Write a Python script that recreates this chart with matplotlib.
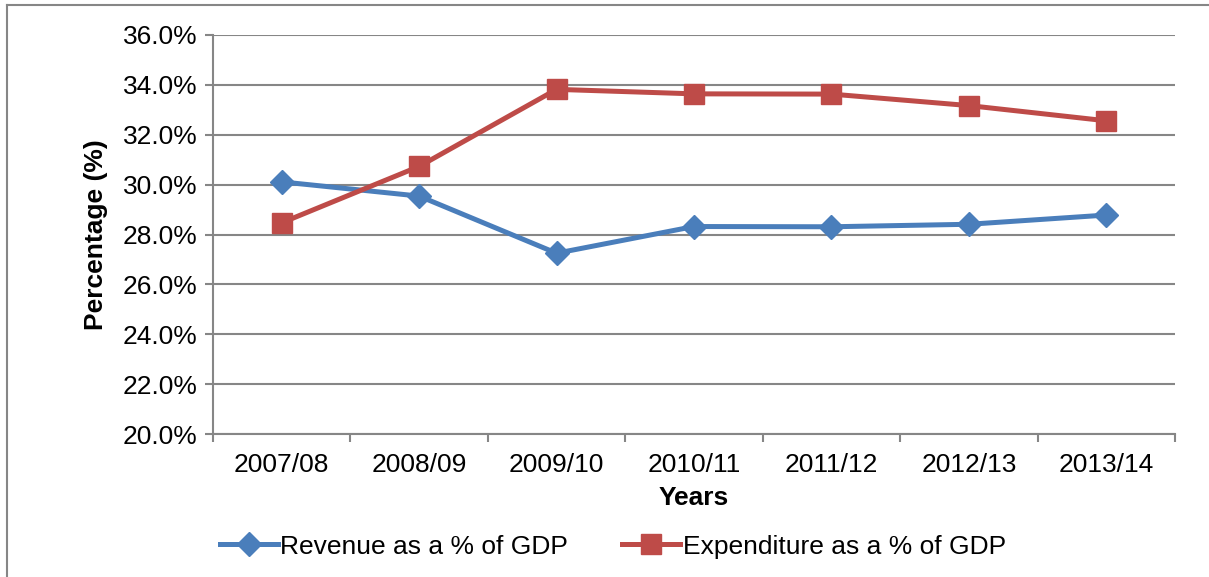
import matplotlib
matplotlib.use('Agg')
import matplotlib.pyplot as plt
from matplotlib.lines import Line2D
from matplotlib.ticker import FuncFormatter, FixedLocator

years = ['2007/08', '2008/09', '2009/10', '2010/11', '2011/12', '2012/13', '2013/14']
revenue = [30.11, 29.54, 27.25, 28.32, 28.31, 28.41, 28.78]
expenditure = [28.47, 30.73, 33.82, 33.64, 33.63, 33.17, 32.56]

plt.rcParams['font.family'] = ['Liberation Sans', 'DejaVu Sans']


def main():
    fig = plt.figure(figsize=(12.09, 5.77), dpi=100)
    ax = fig.add_axes([213 / 1209, 1 - 434 / 577, (1175 - 213) / 1209, (434 - 35) / 577])

    grey = '#868686'
    x = list(range(len(years)))
    ax.plot(x, revenue, color='#4A7EBB', lw=3.6, marker='D', ms=12,
            label='Revenue as a % of GDP', zorder=3)
    ax.plot(x, expenditure, color='#BE4B48', lw=3.6, marker='s', ms=14,
            label='Expenditure as a % of GDP', zorder=3)

    ax.set_xlim(-0.5, len(years) - 0.5)
    ax.set_ylim(20, 36)
    ax.set_yticks([20, 22, 24, 26, 28, 30, 32, 34, 36])
    ax.yaxis.set_major_formatter(FuncFormatter(lambda v, p: '%.1f%%' % v))
    ax.grid(axis='y', color=grey, lw=1.5)
    ax.set_axisbelow(True)

    # category labels centred, ticks between categories
    ax.set_xticks(x)
    ax.set_xticklabels(years)
    ax.tick_params(axis='x', which='major', length=0, pad=14, labelsize=19)
    ax.xaxis.set_minor_locator(FixedLocator([i - 0.5 for i in range(len(years) + 1)]))
    ax.tick_params(axis='x', which='minor', length=6, width=1.5, color=grey, direction='out')
    ax.tick_params(axis='y', length=6, width=1.5, color=grey, labelsize=19, pad=5)

    for s in ['top', 'right']:
        ax.spines[s].set_visible(False)
    for s in ['left', 'bottom']:
        ax.spines[s].set_color(grey)
        ax.spines[s].set_linewidth(1.5)

    ax.set_xlabel('Years', fontsize=19, fontweight='bold', labelpad=6)
    ax.set_ylabel('Percentage (%)', fontsize=19, fontweight='bold', labelpad=11)

    fig.legend(loc='lower center', bbox_to_anchor=(0.507, 0.0), ncol=2, frameon=False,
               fontsize=19, handlelength=2.2, handletextpad=0.1, columnspacing=2.05,
               borderaxespad=0.3)

    # chart frame (left and top edges visible)
    fig.add_artist(Line2D([7 / 1209, 7 / 1209], [0, 1 - 5 / 577], color=grey, lw=1.5))
    fig.add_artist(Line2D([7 / 1209, 1], [1 - 5 / 577, 1 - 5 / 577], color=grey, lw=1.5))

    fig.savefig('out.png', dpi=100)


if __name__ == '__main__':
    main()
